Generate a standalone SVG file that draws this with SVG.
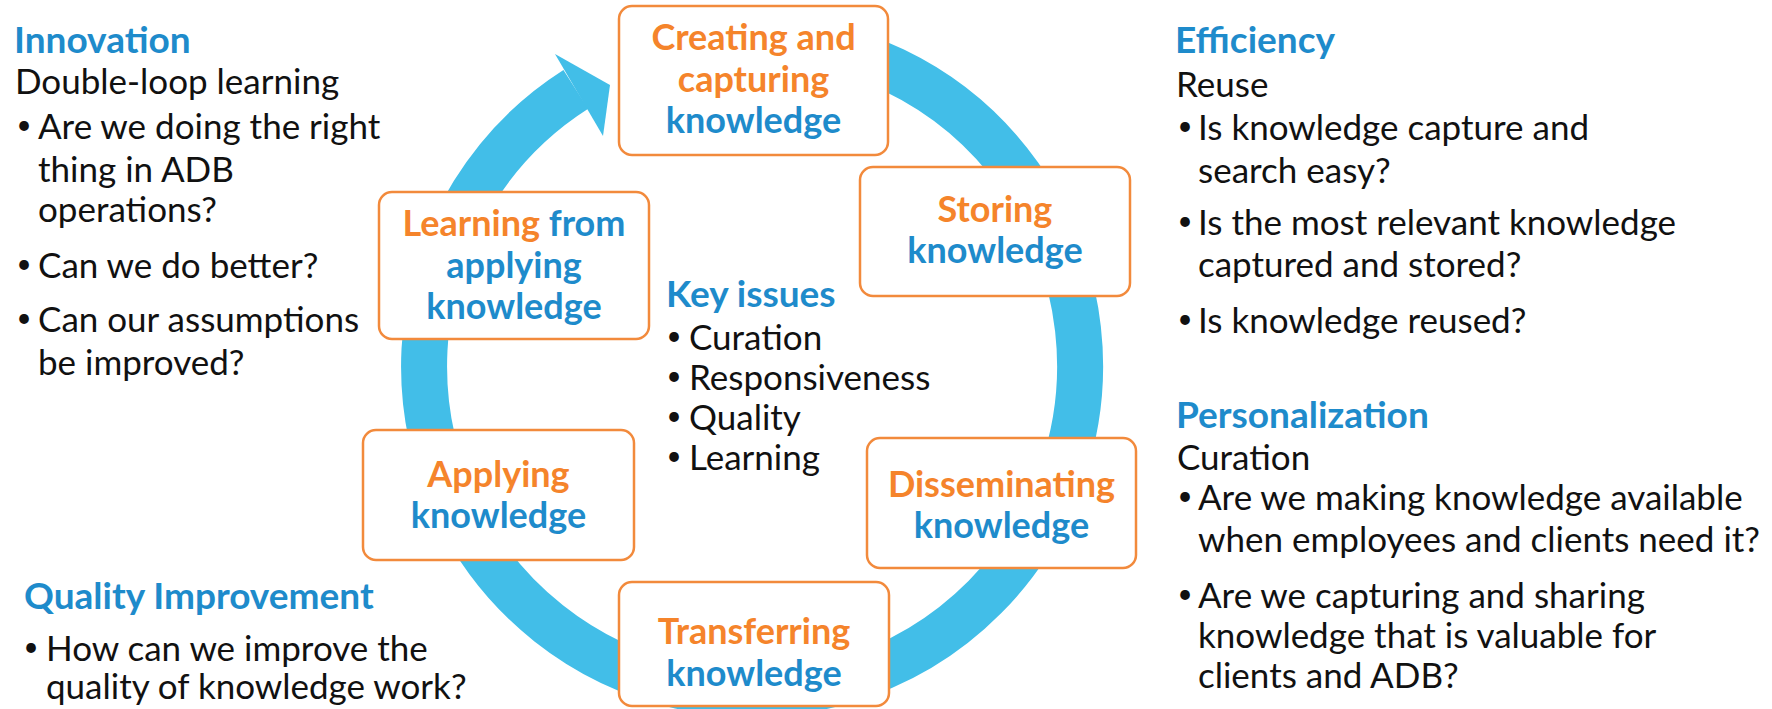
<svg xmlns="http://www.w3.org/2000/svg" width="1772" height="709" viewBox="0 0 1772 709">
<style>
  .box { fill: #ffffff; stroke: #F28A3C; stroke-width: 2.5; }
  .bt { font-family: Lato, "Open Sans", sans-serif; font-weight: 700; font-size: 36px; text-anchor: middle; }
  .or { fill: #F5842B; }
  .bl { fill: #1E8BCB; }
  .hd { font-family: Lato, "Open Sans", sans-serif; font-weight: 700; font-size: 37px; fill: #1E8BCB; }
  .tx { font-family: Lato, "Open Sans", sans-serif; font-weight: 400; font-size: 35px; fill: #111111; }
  .bu { font-family: Lato, "Open Sans", sans-serif; font-weight: 400; font-size: 26px; fill: #111111; text-anchor: middle; }
  .ring { fill: none; stroke: #42BEE8; stroke-width: 46; }
  .head { fill: #42BEE8; }
</style>
<rect width="1772" height="709" fill="#ffffff"/>

<g id="connectors">
  <path class="ring" d="M 752 38 A 328 328 0 1 1 575.8 89.4"/>
  <polygon class="head" points="555,54 610,85 603,136"/>
</g>

<g id="node-creating">
  <rect class="box" x="619" y="6" width="269" height="149" rx="13"/>
  <text class="bt or" x="753.5" y="50">Creating and</text>
  <text class="bt or" x="753.5" y="92">capturing</text>
  <text class="bt bl" x="753.5" y="133">knowledge</text>
</g>

<g id="node-storing">
  <rect class="box" x="860" y="167" width="270" height="129" rx="13"/>
  <text class="bt or" x="995" y="222">Storing</text>
  <text class="bt bl" x="995" y="263">knowledge</text>
</g>

<g id="node-disseminating">
  <rect class="box" x="867" y="438" width="269" height="130" rx="13"/>
  <text class="bt or" x="1001.5" y="497">Disseminating</text>
  <text class="bt bl" x="1001.5" y="538">knowledge</text>
</g>

<g id="node-transferring">
  <rect class="box" x="619" y="582" width="270" height="124" rx="13"/>
  <text class="bt or" x="754" y="644">Transferring</text>
  <text class="bt bl" x="754" y="686">knowledge</text>
</g>

<g id="node-applying">
  <rect class="box" x="363" y="430" width="271" height="130" rx="13"/>
  <text class="bt or" x="498.5" y="487">Applying</text>
  <text class="bt bl" x="498.5" y="528">knowledge</text>
</g>

<g id="node-learning">
  <rect class="box" x="379" y="192" width="270" height="147" rx="13"/>
  <text class="bt" x="514" y="236"><tspan class="or">Learning</tspan><tspan class="bl"> from</tspan></text>
  <text class="bt bl" x="514" y="278">applying</text>
  <text class="bt bl" x="514" y="319">knowledge</text>
</g>

<g id="key-issues">
  <text class="hd" x="666" y="307">Key issues</text>
  <text class="bu" x="674" y="345">•</text><text class="tx" x="689" y="350">Curation</text>
  <text class="bu" x="674" y="385">•</text><text class="tx" x="689" y="390">Responsiveness</text>
  <text class="bu" x="674" y="425">•</text><text class="tx" x="689" y="430">Quality</text>
  <text class="bu" x="674" y="465">•</text><text class="tx" x="689" y="470">Learning</text>
</g>

<g id="innovation">
  <text class="hd" x="14" y="53">Innovation</text>
  <text class="tx" x="15" y="94">Double-loop learning</text>
  <text class="bu" x="24" y="134">•</text><text class="tx" x="38" y="139">Are we doing the right</text>
  <text class="tx" x="38" y="182">thing in ADB</text>
  <text class="tx" x="38" y="222">operations?</text>
  <text class="bu" x="24" y="273">•</text><text class="tx" x="38" y="278">Can we do better?</text>
  <text class="bu" x="24" y="327">•</text><text class="tx" x="38" y="332">Can our assumptions</text>
  <text class="tx" x="38" y="375">be improved?</text>
</g>

<g id="quality-improvement">
  <text class="hd" x="24" y="609">Quality Improvement</text>
  <text class="bu" x="31" y="656">•</text><text class="tx" x="46" y="661">How can we improve the</text>
  <text class="tx" x="46" y="699">quality of knowledge work?</text>
</g>

<g id="efficiency">
  <text class="hd" x="1175" y="53">Efficiency</text>
  <text class="tx" x="1176" y="97">Reuse</text>
  <text class="bu" x="1185" y="135">•</text><text class="tx" x="1198" y="140">Is knowledge capture and</text>
  <text class="tx" x="1198" y="183">search easy?</text>
  <text class="bu" x="1185" y="230">•</text><text class="tx" x="1198" y="235">Is the most relevant knowledge</text>
  <text class="tx" x="1198" y="277">captured and stored?</text>
  <text class="bu" x="1185" y="328">•</text><text class="tx" x="1198" y="333">Is knowledge reused?</text>
</g>

<g id="personalization">
  <text class="hd" x="1176" y="428">Personalization</text>
  <text class="tx" x="1177" y="470">Curation</text>
  <text class="bu" x="1185" y="505">•</text><text class="tx" x="1198" y="510">Are we making knowledge available</text>
  <text class="tx" x="1198" y="552">when employees and clients need it?</text>
  <text class="bu" x="1185" y="603">•</text><text class="tx" x="1198" y="608">Are we capturing and sharing</text>
  <text class="tx" x="1198" y="648">knowledge that is valuable for</text>
  <text class="tx" x="1198" y="688">clients and ADB?</text>
</g>
</svg>
